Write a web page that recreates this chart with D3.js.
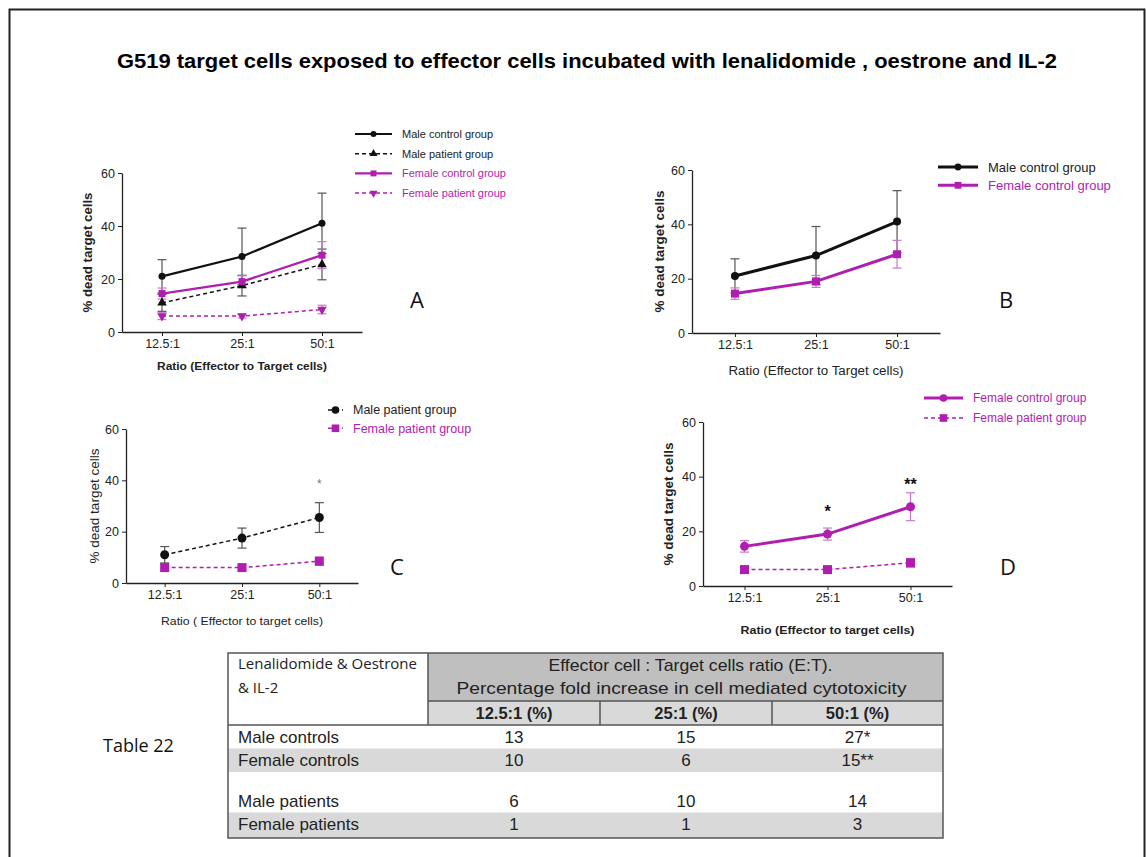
<!DOCTYPE html>
<meta charset="utf-8">
<style>
body { margin: 0; background: #fff; }
svg { display: block; font-family: "Liberation Sans", Arial, sans-serif; }
.axis path, .axis line { stroke: #222; }
.axis text { fill: #222; }
</style>
<svg width="1146" height="857"></svg>
<script src="https://cdn.jsdelivr.net/npm/d3@7"></script>
<script>

// ---- data ----
var ratios = ["12.5:1", "25:1", "50:1"];
var yTicks = [0, 20, 40, 60];

var maleControl      = [21, 28.5, 41];
var maleControlErr   = [6.3, 10.7, 11.4];
var malePatient      = [11, 17.5, 25.5];
var malePatientErr   = [3.2, 3.9, 5.8];
var femaleControl    = [14.5, 19, 29];
var femaleControlErr = [2.1, 2.2, 5.1];
var femalePatient    = [6, 6, 8.5];
var femalePatientErr = [1.3, 0.7, 1.6];

var tableCorner = ["Lenalidomide & Oestrone", "& IL-2"];
var tableHeader = ["Effector cell : Target cells ratio (E:T).", "Percentage fold increase in cell mediated cytotoxicity"];
var tableCols = ["12.5:1 (%)", "25:1 (%)", "50:1 (%)"];
var tableRows = ["Male controls", "Female controls", "Male patients", "Female patients"];
var tableValues = [
  ["13", "15", "27*"],
  ["10", "6", "15**"],
  ["6", "10", "14"],
  ["1", "1", "3"]
];

var purple = "#b01eb0";

var series = {
  mc: { name: "Male control group",   values: maleControl,   err: maleControlErr,   color: "#111", errColor: "#555", dashed: false },
  mp: { name: "Male patient group",   values: malePatient,   err: malePatientErr,   color: "#111", errColor: "#555", dashed: true },
  fc: { name: "Female control group", values: femaleControl, err: femaleControlErr, color: purple, errColor: "#c77bc7", dashed: false },
  fp: { name: "Female patient group", values: femalePatient, err: femalePatientErr, color: purple, errColor: "#c77bc7", dashed: true }
};

var panels = [
  { letter: "A", box: { left: 122, right: 362, top: 173, bottom: 332 }, pad: 0.5, lw: 2.2, ms: 7,
    keys: [["mc", "circle"], ["mp", "triangle"], ["fc", "square"], ["fp", "triangleDown"]],
    legend: { x: 355, y: 134, dy: 19.7, len: 37, size: 11 },
    letterPos: { x: 417, y: 300 },
    yLabel: { x: 88, bold: true, size: 12, len: 120 },
    xLabel: { text: "Ratio (Effector to Target cells)", y: 366, bold: true, size: 11.5, len: 170 },
    stars: [] },
  { letter: "B", box: { left: 692, right: 940, top: 170, bottom: 333 }, pad: 0.53, lw: 3, ms: 8,
    keys: [["mc", "circle"], ["fc", "square"]],
    legend: { x: 938, y: 167, dy: 18.3, len: 40, size: 13 },
    letterPos: { x: 1006, y: 300 },
    yLabel: { x: 660, bold: true, size: 12, len: 122 },
    xLabel: { text: "Ratio (Effector to Target cells)", y: 371, bold: false, size: 12, len: 175 },
    stars: [] },
  { letter: "C", box: { left: 126, right: 358, top: 429, bottom: 583 }, pad: 0.5, lw: 1.6, ms: 9,
    keys: [["mp", "circle"], ["fp", "square"]],
    legend: { x: 328, y: 410, dy: 18.3, len: 15, size: 12.5 },
    letterPos: { x: 397, y: 567 },
    yLabel: { x: 95, bold: false, size: 12.5, len: 115 },
    xLabel: { text: "Ratio ( Effector to target cells)", y: 621, bold: false, size: 11.5, len: 162 },
    stars: [{ i: 2, text: "*", v: 39.8, size: 12, color: "#777", bold: false }] },
  { letter: "D", box: { left: 703, right: 952, top: 422, bottom: 586 }, pad: 0.5, lw: 3, ms: 9,
    keys: [["fc", "circle"], ["fp", "square"]],
    legend: { x: 924, y: 398, dy: 20, len: 39, size: 12 },
    letterPos: { x: 1008, y: 567 },
    yLabel: { x: 669, bold: true, size: 12, len: 123 },
    xLabel: { text: "Ratio (Effector to target cells)", y: 630, bold: true, size: 11.5, len: 174 },
    stars: [{ i: 1, text: "*", v: 28.6, size: 16, color: "#111", bold: true },
            { i: 2, text: "**", v: 38.5, size: 16, color: "#111", bold: true }] }
];

var svg = d3.select("svg");

// frame
svg.append("rect")
  .attr("x", 9.5).attr("y", 9.5)
  .attr("width", 1135).attr("height", 900)
  .attr("fill", "none").attr("stroke", "#222").attr("stroke-width", 2);

// title
svg.append("text")
  .attr("x", 587).attr("y", 68)
  .attr("text-anchor", "middle")
  .attr("font-size", 21).attr("font-weight", "bold")
  .attr("textLength", 940).attr("lengthAdjust", "spacingAndGlyphs")
  .text("G519 target cells exposed to effector cells incubated with lenalidomide , oestrone and IL-2");

function symbolPath(type, size) {
  var t = type == "circle" ? d3.symbolCircle : type == "square" ? d3.symbolSquare : d3.symbolTriangle;
  var area = type == "circle" ? Math.PI * size * size / 4 : type == "square" ? size * size : size * size * 0.8;
  return d3.symbol().type(t).size(area)();
}

function drawMarker(g, type, x, y, size, color) {
  g.append("path")
    .attr("d", symbolPath(type, size))
    .attr("transform", "translate(" + x + "," + y + ")" + (type == "triangleDown" ? " rotate(180)" : ""))
    .attr("fill", color);
}

panels.forEach(function(p) {
  var g = svg.append("g");
  var x = d3.scalePoint().domain(ratios).range([p.box.left, p.box.right]).padding(p.pad);
  var y = d3.scaleLinear().domain([0, 60]).range([p.box.bottom, p.box.top]);

  g.append("g").attr("class", "axis")
    .attr("transform", "translate(0," + p.box.bottom + ")")
    .call(d3.axisBottom(x).tickSize(4).tickSizeOuter(0))
    .call(function(a) { a.selectAll("text").attr("font-size", 12.5).attr("font-family", "Liberation Sans, Arial, sans-serif"); })
    .call(function(a) { a.select(".domain").attr("stroke-width", 1.3); });

  g.append("g").attr("class", "axis")
    .attr("transform", "translate(" + p.box.left + ",0)")
    .call(d3.axisLeft(y).tickValues(yTicks).tickSize(4).tickSizeOuter(0))
    .call(function(a) { a.selectAll("text").attr("font-size", 12.5).attr("font-family", "Liberation Sans, Arial, sans-serif"); })
    .call(function(a) { a.select(".domain").attr("stroke-width", 1.3); });

  var line = d3.line().x(function(d, i) { return x(ratios[i]); }).y(function(d) { return y(d); });

  // error bars
  p.keys.forEach(function(k) {
    var s = series[k[0]];
    s.values.forEach(function(v, i) {
      var cx = x(ratios[i]);
      var eg = g.append("g").attr("stroke", s.errColor).attr("stroke-width", 1.2);
      eg.append("line").attr("x1", cx).attr("x2", cx).attr("y1", y(v - s.err[i])).attr("y2", y(v + s.err[i]));
      [v - s.err[i], v + s.err[i]].forEach(function(e) {
        eg.append("line").attr("x1", cx - 4.5).attr("x2", cx + 4.5).attr("y1", y(e)).attr("y2", y(e));
      });
    });
  });

  // lines and markers
  p.keys.forEach(function(k) {
    var s = series[k[0]];
    g.append("path")
      .attr("d", line(s.values))
      .attr("fill", "none")
      .attr("stroke", s.color)
      .attr("stroke-width", s.dashed ? 1.5 : p.lw)
      .attr("stroke-dasharray", s.dashed ? "4,3" : null);
    s.values.forEach(function(v, i) {
      drawMarker(g, k[1], x(ratios[i]), y(v), p.ms, s.color);
    });
  });

  // significance stars
  p.stars.forEach(function(st) {
    g.append("text")
      .attr("x", x(ratios[st.i])).attr("y", y(st.v) + st.size * 0.58)
      .attr("text-anchor", "middle")
      .attr("font-size", st.size).attr("font-weight", st.bold ? "bold" : "normal")
      .attr("fill", st.color)
      .text(st.text);
  });

  // legend
  p.keys.forEach(function(k, j) {
    var s = series[k[0]];
    var ly = p.legend.y + j * p.legend.dy;
    g.append("line")
      .attr("x1", p.legend.x).attr("x2", p.legend.x + p.legend.len)
      .attr("y1", ly).attr("y2", ly)
      .attr("stroke", s.color)
      .attr("stroke-width", s.dashed ? 1.5 : p.lw)
      .attr("stroke-dasharray", s.dashed ? "4,3" : null);
    drawMarker(g, k[1], p.legend.x + p.legend.len / 2, ly, p.ms * 0.85, s.color);
    g.append("text")
      .attr("x", p.legend.x + p.legend.len + 10).attr("y", ly)
      .attr("dy", "0.35em")
      .attr("font-size", p.legend.size)
      .attr("fill", s.color == purple ? purple : "#222")
      .text(s.name);
  });

  // axis titles
  g.append("text")
    .attr("transform", "translate(" + p.yLabel.x + "," + (p.box.top + p.box.bottom) / 2 + ") rotate(-90)")
    .attr("text-anchor", "middle").attr("dy", "0.35em")
    .attr("font-size", p.yLabel.size)
    .attr("font-weight", p.yLabel.bold ? "bold" : "normal")
    .attr("textLength", p.yLabel.len).attr("lengthAdjust", "spacingAndGlyphs")
    .attr("fill", "#222")
    .text("% dead target cells");

  g.append("text")
    .attr("x", (p.box.left + p.box.right) / 2).attr("y", p.xLabel.y)
    .attr("text-anchor", "middle").attr("dy", "0.35em")
    .attr("font-size", p.xLabel.size)
    .attr("font-weight", p.xLabel.bold ? "bold" : "normal")
    .attr("textLength", p.xLabel.len).attr("lengthAdjust", "spacingAndGlyphs")
    .attr("fill", "#222")
    .text(p.xLabel.text);

  g.append("text")
    .attr("x", p.letterPos.x).attr("y", p.letterPos.y)
    .attr("text-anchor", "middle").attr("dy", "0.35em")
    .attr("font-family", "Open Sans, sans-serif")
    .attr("font-size", 22)
    .attr("fill", "#111")
    .text(p.letter);
});

// ---- table ----
var colX = [228, 428, 600, 772, 943];
var tTop = 653, tHead1 = 701, tHead2 = 725, tBottom = 838;
var rowH = 23.5, rowGap = 17;
function rowTop(i) { return tHead2 + i * rowH + (i >= 2 ? rowGap : 0); }

var tg = svg.append("g");

tg.append("rect").attr("x", colX[1]).attr("y", tTop).attr("width", colX[4] - colX[1]).attr("height", tHead1 - tTop).attr("fill", "#bfbfbf");
tg.append("rect").attr("x", colX[1]).attr("y", tHead1).attr("width", colX[4] - colX[1]).attr("height", tHead2 - tHead1).attr("fill", "#d9d9d9");

tableRows.forEach(function(r, i) {
  if (i % 2 == 1) {
    tg.append("rect").attr("x", colX[0]).attr("y", rowTop(i)).attr("width", colX[4] - colX[0])
      .attr("height", i == 3 ? tBottom - rowTop(i) : rowH).attr("fill", "#d9d9d9");
  }
});

var lines = tg.append("g").attr("stroke", "#555").attr("stroke-width", 1.5);
lines.append("rect").attr("x", colX[0]).attr("y", tTop).attr("width", colX[4] - colX[0]).attr("height", tBottom - tTop).attr("fill", "none");
lines.append("line").attr("x1", colX[1]).attr("x2", colX[1]).attr("y1", tTop).attr("y2", tHead2);
lines.append("line").attr("x1", colX[1]).attr("x2", colX[4]).attr("y1", tHead1).attr("y2", tHead1);
lines.append("line").attr("x1", colX[0]).attr("x2", colX[4]).attr("y1", tHead2).attr("y2", tHead2);
[colX[2], colX[3]].forEach(function(cx) {
  lines.append("line").attr("x1", cx).attr("x2", cx).attr("y1", tHead1).attr("y2", tHead2);
});

tableCorner.forEach(function(t, i) {
  tg.append("text").attr("x", colX[0] + 10).attr("y", 664 + i * 23.5).attr("dy", "0.35em")
    .attr("font-family", "Open Sans, sans-serif").attr("font-size", 15).attr("fill", "#222").text(t);
});
var headLens = [284, 450];
tableHeader.forEach(function(t, i) {
  tg.append("text").attr("x", (colX[1] + colX[4]) / 2 + (i == 0 ? 5 : -4)).attr("y", 665 + i * 23.5).attr("dy", "0.35em")
    .attr("text-anchor", "middle").attr("font-size", 17)
    .attr("textLength", headLens[i]).attr("lengthAdjust", "spacingAndGlyphs")
    .attr("fill", "#222").text(t);
});
tableCols.forEach(function(t, i) {
  tg.append("text").attr("x", (colX[i + 1] + colX[i + 2]) / 2).attr("y", (tHead1 + tHead2) / 2).attr("dy", "0.35em")
    .attr("text-anchor", "middle").attr("font-size", 16.5).attr("font-weight", "bold").attr("fill", "#222").text(t);
});
tableRows.forEach(function(r, i) {
  var cy = rowTop(i) + rowH / 2;
  tg.append("text").attr("x", colX[0] + 10).attr("y", cy).attr("dy", "0.35em")
    .attr("font-size", 17).attr("fill", "#222").text(r);
  tableValues[i].forEach(function(v, j) {
    tg.append("text").attr("x", (colX[j + 1] + colX[j + 2]) / 2).attr("y", cy).attr("dy", "0.35em")
      .attr("text-anchor", "middle").attr("font-size", 17).attr("fill", "#222").text(v);
  });
});

svg.append("text").attr("x", 103).attr("y", 746).attr("dy", "0.35em")
  .attr("font-family", "Open Sans, sans-serif").attr("font-size", 18).attr("fill", "#111")
  .text("Table 22");

</script>
